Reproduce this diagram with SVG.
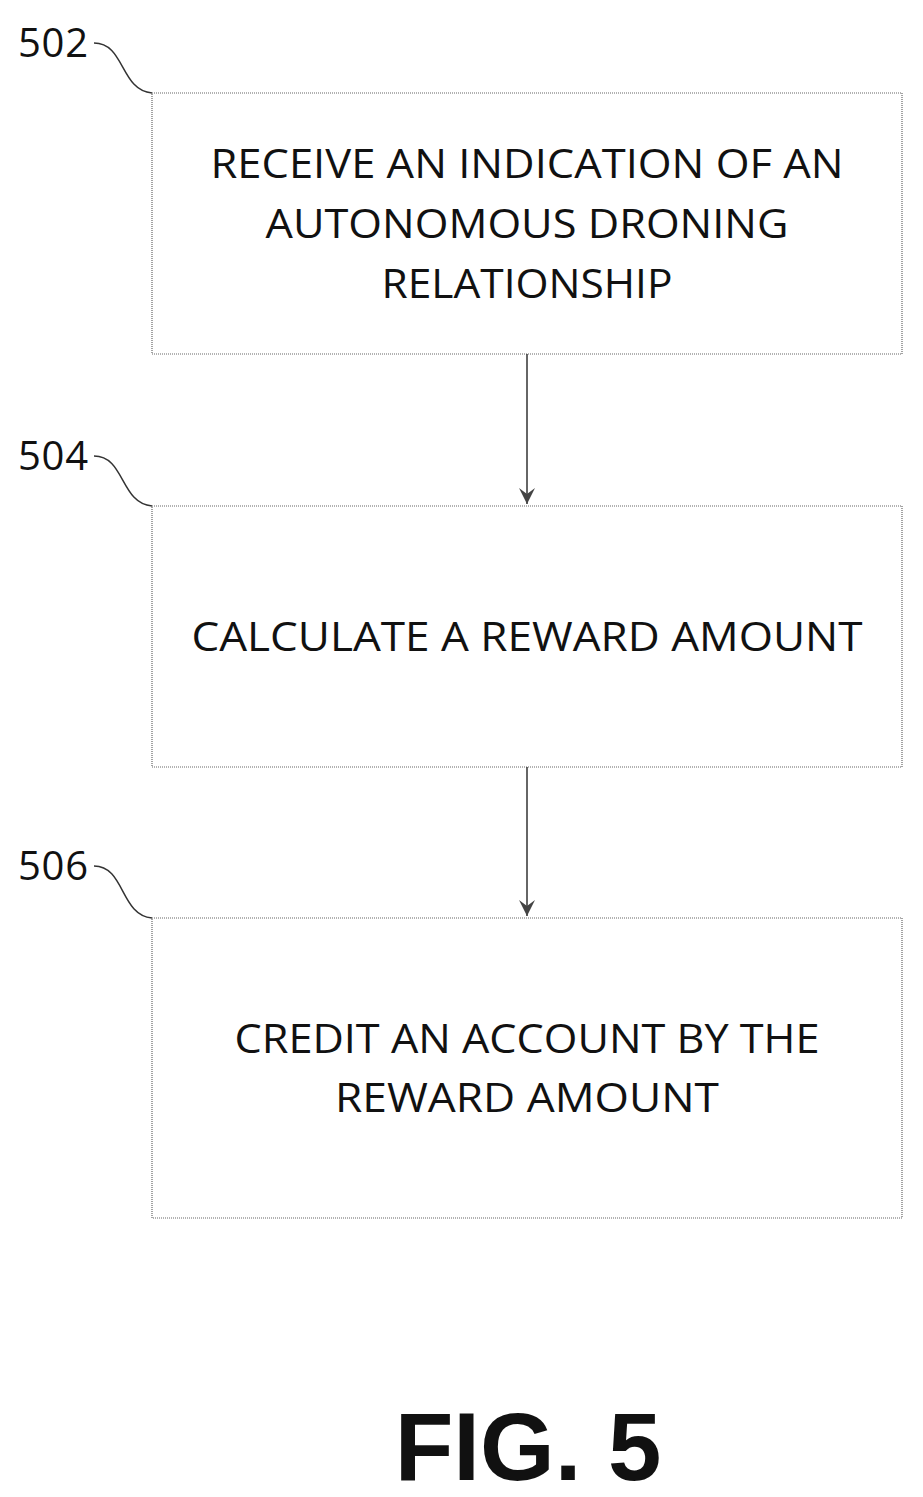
<svg xmlns="http://www.w3.org/2000/svg" width="923" height="1497" viewBox="0 0 923 1497">
<style>
.box{fill:#fff;stroke:#666;stroke-width:1.2;stroke-dasharray:1,1}
.t{font-family:"Open Sans","Liberation Sans",sans-serif;font-size:40px;fill:#111;text-anchor:middle}
.l{font-family:"Open Sans","Liberation Sans",sans-serif;font-size:40px;fill:#111}
.c{fill:none;stroke:#333;stroke-width:1.5}
</style>
<defs><marker id="a" markerWidth="20" markerHeight="20" refX="18" refY="10" orient="auto" markerUnits="userSpaceOnUse"><path d="M2,2 L18,10 L2,18 L8,10 Z" fill="#444"/></marker></defs>
<rect width="923" height="1497" fill="#fff"/>
<g id="n502"><rect class="box" x="152" y="93" width="750" height="261"/><text class="t" x="527" y="178" textLength="633" lengthAdjust="spacingAndGlyphs">RECEIVE AN INDICATION OF AN</text><text class="t" x="527" y="238" textLength="523" lengthAdjust="spacingAndGlyphs">AUTONOMOUS DRONING</text><text class="t" x="527" y="298" textLength="291" lengthAdjust="spacingAndGlyphs">RELATIONSHIP</text><text class="l" x="18" y="57" textLength="70">502</text><path class="c" d="M94,43 C125,43 120,90 152,93"/></g>
<g id="n504"><rect class="box" x="152" y="506" width="750" height="261"/><text class="t" x="527" y="651" textLength="671" lengthAdjust="spacingAndGlyphs">CALCULATE A REWARD AMOUNT</text><text class="l" x="18" y="470" textLength="70">504</text><path class="c" d="M94,456 C125,456 120,503 152,506"/></g>
<g id="n506"><rect class="box" x="152" y="918" width="750" height="300"/><text class="t" x="527" y="1053" textLength="585" lengthAdjust="spacingAndGlyphs">CREDIT AN ACCOUNT BY THE</text><text class="t" x="527" y="1112" textLength="384" lengthAdjust="spacingAndGlyphs">REWARD AMOUNT</text><text class="l" x="18" y="880" textLength="70">506</text><path class="c" d="M94,866 C125,866 120,915 152,918"/></g>
<g id="connectors"><line class="c" x1="527" y1="354" x2="527" y2="504" marker-end="url(#a)"/><line class="c" x1="527" y1="767" x2="527" y2="916" marker-end="url(#a)"/></g>
<text x="528" y="1480" text-anchor="middle" font-family="Liberation Sans,Arial,sans-serif" font-weight="bold" font-size="96" fill="#111">FIG. 5</text>
</svg>
